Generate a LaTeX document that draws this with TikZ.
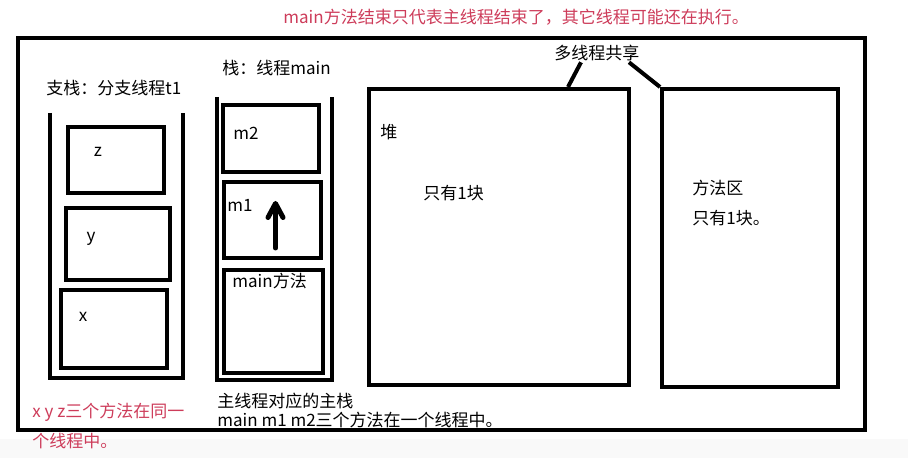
\documentclass[tikz,border=0pt]{standalone}
\usepackage{fontspec}
\setmainfont{Noto Sans CJK SC}
\usetikzlibrary{arrows.meta, positioning}
\definecolor{notered}{RGB}{205,60,90}

\begin{document}
\begin{tikzpicture}[x=0.5pt, y=-0.5pt, font=\fontsize{8.5}{10}\selectfont,
  frame/.style={draw, line width=2pt, inner sep=0pt},
  wall/.style={line width=2pt},
  label/.style={inner sep=0pt, anchor=west},
  note/.style={label, text=notered}]

  \useasboundingbox (0,0) rectangle (908,458);
  \fill[gray!5] (0,439) rectangle (908,458);

  \node[note] (title) at (283,17) {main方法结束只代表主线程结束了，其它线程可能还在执行。};
  \node[frame, minimum width=423.5pt, minimum height=196pt] (jvm) at (441.5,234) {};

  % branch thread stack
  \node[label] (t1) at (46,88) {支栈：分支线程t1};
  \draw[wall] (50,113) |- (183,378) -- (183,113);
  \node[frame, minimum width=48pt, minimum height=33pt] (z) at (116,160) {};
  \node[frame, minimum width=52pt, minimum height=36pt] (y) at (118,244) {};
  \node[frame, minimum width=53pt, minimum height=39pt] (x) at (114,329) {};
  \node at (98,152) {z};
  \node at (91,239) {y};
  \node at (83,317) {x};
  \node[note] (xyz1) at (32,412) {x y z三个方法在同一};
  \node[note] (xyz2) at (32,441) {个线程中。};

  % main thread stack
  \node[label] (tmain) at (222,68) {栈：线程main};
  \draw[wall] (217,97) |- (332,380) -- (332,97);
  \node[frame, minimum width=48pt, minimum height=33.5pt] (m2) at (271,138.5) {};
  \node[frame, minimum width=48.5pt, minimum height=38pt] (m1) at (272.5,220) {};
  \node[frame, minimum width=49.5pt, minimum height=51.5pt] (mm) at (273.5,321.5) {};
  \node[label] at (233,133) {m2};
  \node[label] at (227,205) {m1};
  \node[label] at (232,281) {main方法};
  \draw[line width=2.5pt, line cap=round, -{Straight Barb[length=7pt, width=7.5pt, round]}]
    ([xshift=1.5pt, yshift=6pt]m1.south) -- ([xshift=1.5pt, yshift=-10.5pt]m1.north);
  \node[label] (sub1) at (217,401) {主线程对应的主栈};
  \node[label] (sub2) at (217,420) {main m1 m2三个方法在一个线程中。};

  % shared areas
  \node[frame, minimum width=130pt, minimum height=148pt] (heap) at (499,237) {};
  \node[label] at (380,132) {堆};
  \node[label] at (423,193) {只有1块};
  \node[frame, minimum width=88pt, minimum height=149pt] (method) at (750,238) {};
  \node[label] at (692,188) {方法区};
  \node[label] at (692,218) {只有1块。};

  \node[label] (share) at (554,53) {多线程共享};
  \draw[wall] ([xshift=13.5pt, yshift=-0.5pt]share.south west) -- ([xshift=100.5pt]heap.north west);
  \draw[wall] ([xshift=37.5pt, yshift=-0.5pt]share.south west) -- (method.north west);

\end{tikzpicture}
\end{document}
